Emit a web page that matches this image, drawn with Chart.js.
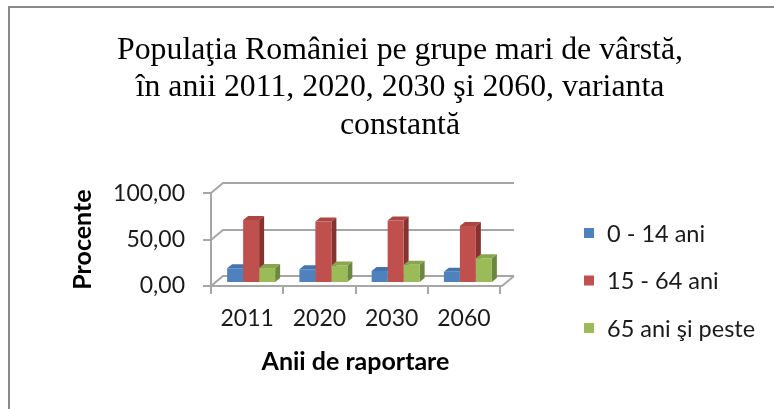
<!DOCTYPE html>
<html><head><meta charset="utf-8">
<script src="https://cdn.jsdelivr.net/npm/chart.js@4.4.0/dist/chart.umd.min.js"></script>
<style>
html,body{margin:0;padding:0;background:#fff;overflow:hidden;}
#wrap{position:relative;width:774px;height:409px;overflow:hidden;background:#fff;}
#frame{position:absolute;left:8px;top:6px;width:784px;height:430px;border:2px solid #8a8a8a;box-sizing:border-box;}
canvas{position:absolute;left:0;top:0;}
</style></head>
<body><div id="wrap"><div id="frame"></div><canvas id="c" width="800" height="409"></canvas></div>
<script>
// ---- data ----
const categories = ['2011', '2020', '2030', '2060'];
const seriesNames = ['0 - 14 ani', '15 - 64 ani', '65 ani şi peste'];
const age0to14 = [15.9, 14.8, 13.0, 12.0];
const age15to64 = [68.0, 66.3, 67.3, 61.3];
const age65plus = [16.1, 18.9, 19.7, 26.7];
const yTicks = [0, 50, 100];
const titleLines = ['Populaţia României pe grupe mari de vârstă,', 'în anii 2011, 2020, 2030 şi 2060, varianta', 'constantă'];
const xTitle = 'Anii de raportare';
const yTitle = 'Procente';

// ---- styles ----
const frontColors = ['#4F81BD', '#C0504D', '#9BBB59'];
const topColors = ['#4473AE', '#A94643', '#89A64E'];
const sideColors = ['#36598A', '#86332F', '#6C8840'];
const gridColor = '#a6a6a6';
const sansFont = 'Lato, "Liberation Sans", sans-serif';
const WALL = {dx: 12, dy: -10};
const BAR = {dx: 4, dy: -3, depthX: 5, depthY: -4};

const threeD = {
  id: 'threeD',
  beforeDatasetsDraw(chart) {
    const {ctx, chartArea: a, scales: {x, y}} = chart;
    ctx.save();
    ctx.strokeStyle = gridColor; ctx.lineWidth = 2;
    yTicks.forEach(v => {
      const py = Math.round(y.getPixelForValue(v));
      ctx.beginPath();
      ctx.moveTo(a.left, py);
      ctx.lineTo(a.left + WALL.dx, py + WALL.dy);
      ctx.lineTo(a.right + WALL.dx + 2, py + WALL.dy);
      ctx.stroke();
    });
    const p0 = Math.round(y.getPixelForValue(0));
    ctx.beginPath();
    ctx.moveTo(a.left, p0); ctx.lineTo(a.right + 2, p0);
    ctx.lineTo(a.right + WALL.dx + 2, p0 + WALL.dy);
    ctx.stroke();
    // side and top faces of bars (drawn before fronts)
    const n = chart.data.labels.length;
    for (let j = 0; j < n; j++) {
      chart.data.datasets.forEach((ds, i) => {
        const bar = chart.getDatasetMeta(i).data[j];
        const {x: bx, y: by, base, width} = bar.getProps(['x', 'y', 'base', 'width'], true);
        const x0 = bx - width / 2 + BAR.dx, x1 = bx + width / 2 + BAR.dx;
        const yt = by + BAR.dy, yb = base + BAR.dy;
        ctx.fillStyle = sideColors[i];
        ctx.beginPath();
        ctx.moveTo(x1, yt); ctx.lineTo(x1 + BAR.depthX, yt + BAR.depthY);
        ctx.lineTo(x1 + BAR.depthX, yb + BAR.depthY); ctx.lineTo(x1, yb);
        ctx.closePath(); ctx.fill();
        ctx.fillStyle = topColors[i];
        ctx.beginPath();
        ctx.moveTo(x0, yt); ctx.lineTo(x1, yt);
        ctx.lineTo(x1 + BAR.depthX, yt + BAR.depthY); ctx.lineTo(x0 + BAR.depthX, yt + BAR.depthY);
        ctx.closePath(); ctx.fill();
      });
    }
    ctx.restore();
    ctx.save();
    ctx.translate(BAR.dx, BAR.dy);
  },
  afterDatasetsDraw(chart) {
    chart.ctx.restore();
  },
  afterDraw(chart) {
    const ctx = chart.ctx;
    ctx.save();
    ctx.font = '23.5px ' + sansFont;
    ctx.textBaseline = 'middle';
    ctx.textAlign = 'left';
    chart.data.datasets.forEach((ds, i) => {
      const cy = 233 + i * 47.5;
      ctx.fillStyle = ds.backgroundColor;
      ctx.fillRect(584, cy - 5, 10, 10);
      ctx.fillStyle = '#1a1a1a';
      ctx.fillText(ds.label, 607, cy + 1);
    });
    ctx.restore();
  }
};

const seriesValues = [age0to14, age15to64, age65plus];
new Chart(document.getElementById('c'), {
  type: 'bar',
  data: {
    labels: categories,
    datasets: seriesValues.map((vals, i) => ({
      label: seriesNames[i], data: vals, backgroundColor: frontColors[i],
      borderWidth: 0, categoryPercentage: 0.664, barPercentage: 1, clip: false
    }))
  },
  options: {
    responsive: false, animation: false, devicePixelRatio: 1,
    layout: {padding: {left: 0, right: 0, top: 0, bottom: 0}},
    plugins: {
      legend: {display: false},
      tooltip: {enabled: false},
      title: {
        display: true, text: titleLines, color: '#000',
        font: {family: '"Liberation Serif", "Times New Roman", serif', size: 31.8, weight: 'normal', lineHeight: 1.176},
        padding: {top: 32, bottom: 49}
      }
    },
    scales: {
      x: {
        grid: {display: true, drawOnChartArea: false, drawTicks: true, tickLength: 8, color: gridColor, lineWidth: 2, offset: true},
        border: {display: true, color: gridColor, width: 2},
        ticks: {color: '#1a1a1a', padding: 11, font: {family: sansFont, size: 23, lineHeight: 1.2}},
        title: {display: true, text: xTitle, color: '#000', font: {family: sansFont, size: 25, weight: 'bold', lineHeight: 1.2}, padding: {top: 0, bottom: 32}},
        afterFit(s) { s.height = 123; }
      },
      y: {
        min: 0, max: 100,
        afterBuildTicks(s) { s.ticks = yTicks.map(v => ({value: v})); },
        grid: {display: true, drawOnChartArea: false, drawTicks: true, tickLength: 8, color: gridColor, lineWidth: 2},
        border: {display: true, color: gridColor, width: 2},
        ticks: {color: '#1a1a1a', padding: 18, font: {family: sansFont, size: 23, lineHeight: 1.2},
          callback: v => Number(v).toFixed(2).replace('.', ',')},
        title: {display: true, text: yTitle, color: '#000', font: {family: sansFont, size: 25, weight: 'bold', lineHeight: 1.2}, padding: {top: 68, bottom: 0}},
        afterFit(s) { s.width = 211; }
      },
      spacer: {
        type: 'linear', position: 'right', display: true,
        grid: {display: false}, border: {display: false}, ticks: {display: false},
        afterFit(s) { s.width = 300; }
      }
    }
  },
  plugins: [threeD]
});
</script>
</body></html>
